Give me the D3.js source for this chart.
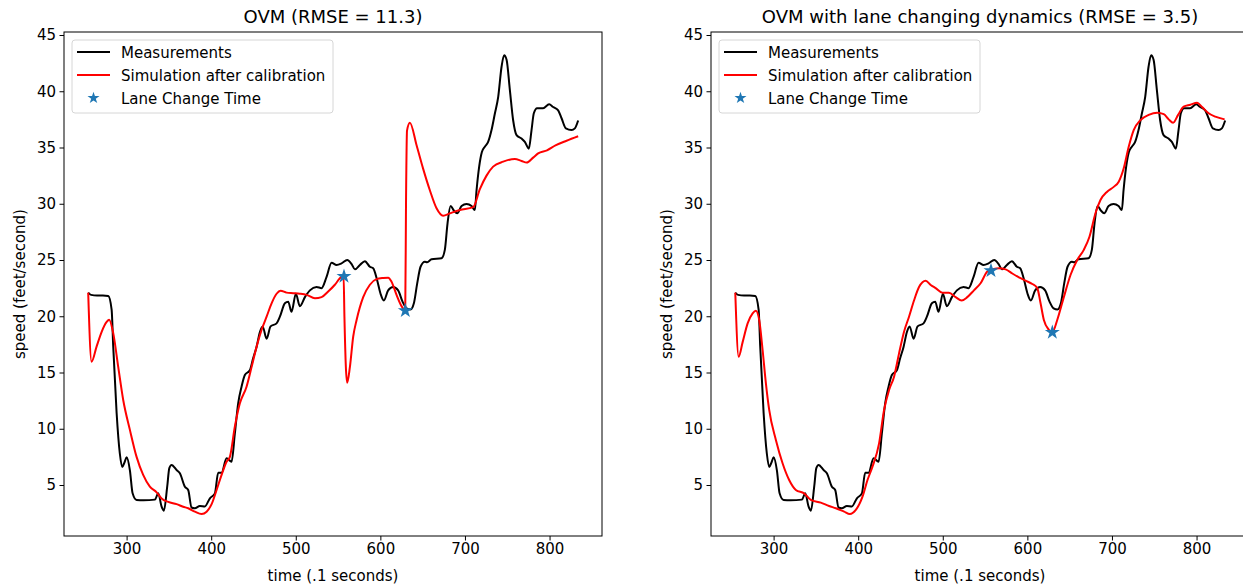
<!DOCTYPE html>
<html>
<head>
<meta charset="utf-8">
<script src="https://cdn.jsdelivr.net/npm/d3@7"></script>
<style>
  body { margin: 0; background: #fff; }
  text { font-family: "DejaVu Sans", sans-serif; fill: #000; }
</style>
</head>
<body>
<div id="target"></div>
<script>
// measured speed (shared by both panels)
var measTime = [254.6, 258, 265, 272, 278.3, 282.3, 284.2, 288.2, 292, 294.8, 297.5, 300, 303.9, 307.1, 311.8, 320, 333.5, 337.4, 341.4, 344.1, 348, 350.5, 353.2, 359.1, 363, 368.9, 372.8, 376.8, 380.7, 386.6, 392.5, 398.5, 404.4, 408.3, 412.3, 418.2, 424.1, 428, 431.9, 435.9, 439.8, 445.7, 449.6, 453.7, 457.6, 460.8, 465.5, 470.2, 477.3, 481.2, 487.1, 491, 495, 500.1, 504.8, 510.8, 516.7, 524.6, 530.5, 536.4, 542.3, 548.2, 554.1, 560.8, 566, 569.9, 575.8, 581.7, 587.6, 591.5, 596.2, 600.2, 604.1, 609.2, 615.1, 621, 626.2, 631, 635.7, 639.6, 643.5, 647.5, 652.6, 655.3, 660.5, 672.3, 676.2, 679.4, 683, 686.9, 690.8, 696, 701.9, 707.8, 711.7, 713.7, 716.8, 720, 723.5, 727.4, 731.4, 735.3, 739.3, 743.3, 746.3, 749.2, 753.1, 757, 761, 766.9, 770.8, 775.5, 778.7, 781.4, 785.3, 792.4, 799.5, 804.3, 810.2, 814.2, 819.3, 826, 829.9, 833.8];
var measSpeed = [22.1, 21.9, 21.85, 21.85, 21.8, 20.6, 17.3, 11.4, 7.8, 6.6, 7.0, 7.46, 6.3, 4.26, 3.67, 3.65, 3.7, 4.26, 3.07, 2.72, 4.85, 6.5, 6.78, 6.33, 6.04, 4.85, 4.56, 3.0, 2.93, 3.13, 3.1, 3.82, 4.26, 6.1, 6.1, 7.37, 7.07, 9.6, 12.26, 13.74, 14.78, 15.2, 16.26, 17.3, 18.6, 19.1, 18.0, 19.1, 19.37, 19.96, 21.15, 21.3, 20.4, 22.0, 20.9, 21.7, 22.3, 22.6, 22.5, 23.5, 24.76, 24.56, 24.7, 25.0, 24.64, 24.17, 24.56, 24.9, 24.4, 24.26, 23.2, 22.0, 21.4, 22.3, 22.6, 22.3, 21.3, 20.7, 20.6, 21.15, 22.9, 24.4, 24.85, 24.8, 25.06, 25.15, 25.9, 28.26, 29.8, 29.4, 29.15, 29.8, 29.98, 29.8, 29.44, 31.2, 33.3, 34.6, 35.07, 35.5, 36.55, 38.0, 39.5, 42.2, 43.2, 42.8, 40.1, 37.4, 36.1, 35.8, 35.5, 34.9, 36.55, 38.04, 38.5, 38.5, 38.84, 38.6, 38.3, 37.6, 36.7, 36.55, 36.7, 37.4];

// OVM simulation (left panel)
var ovmTime = [254.6, 258.6, 264.5, 270.4, 276.4, 279.4, 284.2, 290.1, 296, 303.9, 311.8, 319.6, 327.5, 335.5, 341.4, 349.2, 359.1, 366.9, 372.8, 380.7, 388.7, 394.6, 400.5, 406.4, 412.3, 418.2, 422.1, 428, 433.9, 441.8, 447.8, 453.7, 459.6, 465.5, 471.4, 477.3, 482, 489.1, 496.9, 504.8, 512.8, 522.6, 530.5, 538.3, 546.2, 552.1, 556.5, 557.5, 559.2, 560.8, 564, 567.9, 571.9, 579.7, 587.6, 595.5, 603.3, 609.2, 613.2, 619.1, 625, 629.4, 630.3, 631.5, 634.9, 642.8, 650.6, 658.5, 666.4, 674.2, 682.2, 694, 709.7, 717.6, 725.5, 733.3, 745.2, 759, 766.9, 773, 780.6, 786.5, 797, 807, 820.1, 833.8];
var ovmSpeed = [22.1, 15.96, 17.3, 18.6, 19.5, 19.7, 18.5, 15.5, 12.56, 9.9, 7.5, 5.9, 4.85, 4.35, 3.8, 3.5, 3.3, 3.07, 2.93, 2.63, 2.42, 2.63, 3.3, 4.56, 5.9, 7.07, 7.5, 10.2, 12.26, 13.74, 15.5, 17.3, 18.8, 19.96, 21.15, 22.0, 22.27, 22.1, 22.05, 22.0, 21.9, 21.6, 21.7, 22.2, 22.8, 23.37, 23.6, 20.0, 15.5, 14.1, 15.5, 18.2, 19.67, 21.7, 22.8, 23.3, 23.4, 23.43, 23.07, 21.9, 20.9, 20.5, 30.0, 36.5, 37.2, 35.2, 33.1, 31.2, 29.6, 28.94, 29.15, 29.44, 29.7, 31.3, 32.5, 33.3, 33.74, 33.98, 33.8, 33.66, 34.1, 34.48, 34.75, 35.18, 35.6, 36.0];

// OVM with lane changing simulation (right panel)
var lcTime = [254.7, 258.7, 263.4, 269.3, 275.2, 279.1, 283, 287, 290.9, 294.8, 302.7, 310.6, 318.4, 326.3, 336.1, 344, 355.8, 365.6, 373.6, 383.4, 390.1, 397.2, 405.1, 411, 416.9, 424.7, 430.6, 436.5, 442.4, 448.3, 454.2, 460.1, 466, 471.9, 479.8, 485.7, 491.6, 499.5, 507.3, 515.2, 522.3, 529, 536.8, 544.7, 552.7, 560.4, 566.4, 574.3, 582.2, 590, 597.9, 605.8, 611.7, 615.6, 619.5, 625.4, 629.4, 635.3, 643.1, 651, 658.9, 666.7, 673.4, 680.5, 686.4, 694.3, 702.1, 708, 713.9, 719.8, 725.7, 733.7, 743.4, 753.4, 761.2, 767.1, 772.3, 778.2, 784.8, 792.7, 800.6, 806.5, 814.3, 822.2, 833.2];
var lcSpeed = [22.1, 16.4, 17.7, 19.37, 20.26, 20.5, 19.67, 17.0, 14.04, 11.67, 9.0, 6.93, 5.44, 4.56, 4.26, 3.67, 3.43, 3.13, 2.93, 2.63, 2.42, 2.78, 3.96, 5.44, 6.63, 8.7, 11.67, 13.44, 14.63, 16.7, 18.63, 19.96, 21.4, 22.6, 23.16, 22.78, 22.5, 22.1, 22.1, 21.7, 21.4, 21.7, 22.3, 22.93, 23.97, 24.2, 24.26, 24.17, 23.8, 23.46, 23.16, 22.87, 22.5, 21.15, 19.67, 18.8, 18.57, 19.67, 21.7, 23.67, 25.0, 25.9, 27.07, 29.15, 30.33, 31.07, 31.5, 31.96, 33.15, 35.07, 36.55, 37.44, 37.9, 38.1, 37.97, 37.5, 37.2, 37.9, 38.63, 38.8, 38.98, 38.6, 38.04, 37.74, 37.5];

// lane change instants
var laneChangeTime = [557, 629.5];
var ovmStarSpeed = [23.55, 20.5];
var lcStarSpeed = [24.05, 18.57];

var xTicks = [300, 400, 500, 600, 700, 800];
var yTicks = [5, 10, 15, 20, 25, 30, 35, 40, 45];

var width = 1243, height = 588;
var plotTop = 32, plotBottom = 536;

var svg = d3.select('#target')
  .append('svg')
  .attr('width', width)
  .attr('height', height);

function zip(xs, ys) {
  return xs.map((x, i) => ({t: x, v: ys[i]}));
}

function renderPanel(left, right, title, simTime, simSpeed, starSpeed, ylabX) {
  var x = d3.scaleLinear().domain([226, 862]).range([left, right]);
  var y = d3.scaleLinear().domain([0.467, 45.267]).range([plotBottom, plotTop]);

  var g = svg.append('g');

  var clipId = 'clip' + left;
  svg.append('clipPath').attr('id', clipId)
    .append('rect')
    .attr('x', left).attr('y', plotTop)
    .attr('width', right - left).attr('height', plotBottom - plotTop);

  var line = d3.line()
    .x(d => x(d.t))
    .y(d => y(d.v))
    .curve(d3.curveMonotoneX);

  var plot = g.append('g').attr('clip-path', `url(#${clipId})`);

  plot.append('path')
    .datum(zip(measTime, measSpeed))
    .attr('d', line)
    .attr('fill', 'none')
    .attr('stroke', '#000')
    .attr('stroke-width', 2)
    .attr('stroke-linejoin', 'round');

  plot.append('path')
    .datum(zip(simTime, simSpeed))
    .attr('d', line)
    .attr('fill', 'none')
    .attr('stroke', '#ff0000')
    .attr('stroke-width', 2)
    .attr('stroke-linejoin', 'round');

  plot.selectAll('.star')
    .data(zip(laneChangeTime, starSpeed))
    .enter()
    .append('path')
    .attr('class', 'star')
    .attr('d', d3.symbol().type(d3.symbolStar).size(70))
    .attr('transform', d => `translate(${x(d.t)}, ${y(d.v)})`)
    .attr('fill', '#1f77b4');

  // axes
  var xAxis = g.append('g')
    .attr('transform', `translate(0, ${plotBottom})`)
    .call(d3.axisBottom(x).tickValues(xTicks).tickSize(4.5).tickPadding(3).tickFormat(d3.format('d')));
  var yAxis = g.append('g')
    .attr('transform', `translate(${left}, 0)`)
    .call(d3.axisLeft(y).tickValues(yTicks).tickSize(4.5).tickPadding(3.5).tickFormat(d3.format('d')));
  [xAxis, yAxis].forEach(a => {
    a.select('.domain').remove();
    a.attr('font-size', 15).attr('font-family', '"DejaVu Sans", sans-serif');
    a.selectAll('text').attr('fill', '#000');
    a.selectAll('line').attr('stroke', '#000').attr('stroke-width', 1);
  });

  // frame
  g.append('rect')
    .attr('x', left).attr('y', plotTop)
    .attr('width', right - left).attr('height', plotBottom - plotTop)
    .attr('fill', 'none')
    .attr('stroke', '#000')
    .attr('stroke-width', 1);

  g.append('text')
    .attr('x', (left + right) / 2)
    .attr('y', 23)
    .attr('text-anchor', 'middle')
    .attr('font-size', 18)
    .text(title);

  g.append('text')
    .attr('x', (left + right) / 2)
    .attr('y', 581)
    .attr('text-anchor', 'middle')
    .attr('font-size', 15)
    .text('time (.1 seconds)');

  g.append('text')
    .attr('transform', `translate(${ylabX}, ${(plotTop + plotBottom) / 2}) rotate(-90)`)
    .attr('text-anchor', 'middle')
    .attr('font-size', 15)
    .text('speed (feet/second)');

  // legend
  var lx = left + 8, ly = 40;
  var legend = g.append('g').attr('transform', `translate(${lx}, ${ly})`);
  legend.append('rect')
    .attr('x', 0).attr('y', 0)
    .attr('width', 261).attr('height', 73)
    .attr('rx', 3)
    .attr('fill', '#fff').attr('fill-opacity', 0.8)
    .attr('stroke', '#d6d6d6');
  var items = [
    {label: 'Measurements', color: '#000', kind: 'line'},
    {label: 'Simulation after calibration', color: '#ff0000', kind: 'line'},
    {label: 'Lane Change Time', color: '#1f77b4', kind: 'star'}
  ];
  items.forEach((it, i) => {
    var cy = 12 + i * 23;
    if (it.kind === 'line') {
      legend.append('line')
        .attr('x1', 5).attr('x2', 38)
        .attr('y1', cy).attr('y2', cy)
        .attr('stroke', it.color).attr('stroke-width', 2);
    } else {
      legend.append('path')
        .attr('d', d3.symbol().type(d3.symbolStar).size(45))
        .attr('transform', `translate(21.5, ${cy})`)
        .attr('fill', it.color);
    }
    legend.append('text')
      .attr('x', 49).attr('y', cy + 5.5)
      .attr('font-size', 15)
      .text(it.label);
  });
}

renderPanel(64, 602, 'OVM (RMSE = 11.3)', ovmTime, ovmSpeed, ovmStarSpeed, 25);
renderPanel(711, 1249, 'OVM with lane changing dynamics (RMSE = 3.5)', lcTime, lcSpeed, lcStarSpeed, 672);
</script>
</body>
</html>
